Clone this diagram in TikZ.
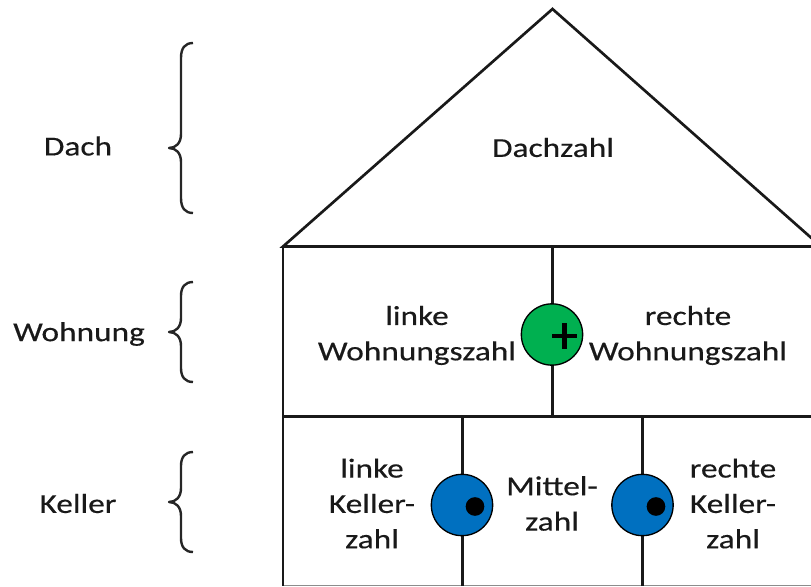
\documentclass[tikz,border=0pt]{standalone}
\usepackage{fontspec}
\setmainfont[FakeStretch=1.22,FakeBold=0.35]{Carlito}
\tikzset{
  px/.style={x=0.75pt,y=-0.75pt},
  house/.style={draw=black!90,line width=2pt,line cap=butt},
  lbl/.style={font=\fontsize{20.5}{26.5}\selectfont,align=center,text=black!90,inner sep=0pt},
  brc/.style={draw=black!85,line width=1.8pt,line join=round},
  opdot/.style={circle,draw=black,line width=1pt,minimum size=46pt,inner sep=0pt},
  innerdot/.style={circle,fill=black,minimum size=14pt,inner sep=0pt}
}
\definecolor{gc}{RGB}{0,176,80}
\definecolor{bc}{RGB}{0,112,192}
\begin{document}
\begin{tikzpicture}[px]
\useasboundingbox (0,0) rectangle (811,586);
\clip (0,0) rectangle (811,586);
\coordinate (apex) at (552.5,9);
\coordinate (wl) at (283,246.5);
\coordinate (wr) at (821,246.5);
\coordinate (ml) at (283,416.5);
\coordinate (mr) at (811,416.5);
\coordinate (bl) at (283,586);
\coordinate (gl) at (283,585.3);
\coordinate (gr) at (811,585.3);
\coordinate (wt) at (552.5,246.5);
\coordinate (wb) at (552.5,416.5);
\coordinate (k1t) at (462.5,416.5);
\coordinate (k1b) at (462.5,586);
\coordinate (k2t) at (642.5,416.5);
\coordinate (k2b) at (642.5,586);
\draw[line width=1pt,draw=black!45] (gl) -- (gr);
\draw[house] (wl) -- (apex) -- (wr) -- cycle;
\draw[house] (wl) -- (bl);
\draw[house] (ml) -- (mr);
\draw[house] (wt) -- (wb);
\draw[house] (k1t) -- (k1b);
\draw[house] (k2t) -- (k2b);
\node[opdot,fill=gc] (plus) at (552,334.5) {};
\node[opdot,fill=bc] (d1) at (462,505) {};
\node[opdot,fill=bc] (d2) at (642.5,505) {};
\node[innerdot] (d1i) at (475,506.5) {};
\node[innerdot] (d2i) at (656,506.5) {};
\draw[line width=3.3pt,black] (552,336) -- (577,336);
\draw[line width=3.3pt,black] (564.5,323) -- (564.5,349);
\node[lbl] (t1) at (553,147.5) {Dachzahl};
\node[lbl] (t2) at (417,335.5) {linke\\Wohnungszahl};
\node[lbl] (t3) at (688,335.5) {rechte\\Wohnungszahl};
\node[lbl] (t4) at (372,503.5) {linke\\Keller-\\zahl};
\node[lbl] (t5) at (552,503.5) {Mittel-\\zahl};
\node[lbl] (t6) at (733,503.5) {rechte\\Keller-\\zahl};
\node[lbl] (s1) at (78,146) {Dach};
\node[lbl] (s2) at (79,334) {Wohnung};
\node[lbl] (s3) at (78,503.5) {Keller};
\draw[brc] (193,43) .. controls (185,43) and (181,48) .. (181,58) -- (181,134) .. controls (181,143) and (176,148) .. (169,148) .. controls (176,148) and (181,153) .. (181,162) -- (181,198) .. controls (181,208) and (185,213) .. (193,213);
\draw[brc] (193,282) .. controls (185,282) and (181,287) .. (181,296) -- (181,318) .. controls (181,327) and (176,332) .. (169,332) .. controls (176,332) and (181,337) .. (181,346) -- (181,368) .. controls (181,377) and (185,382) .. (193,382);
\draw[brc] (193,452) .. controls (185,452) and (181,457) .. (181,466) -- (181,488) .. controls (181,497) and (176,502) .. (169,502) .. controls (176,502) and (181,507) .. (181,516) -- (181,538) .. controls (181,547) and (185,552) .. (193,552);
\end{tikzpicture}
\end{document}
